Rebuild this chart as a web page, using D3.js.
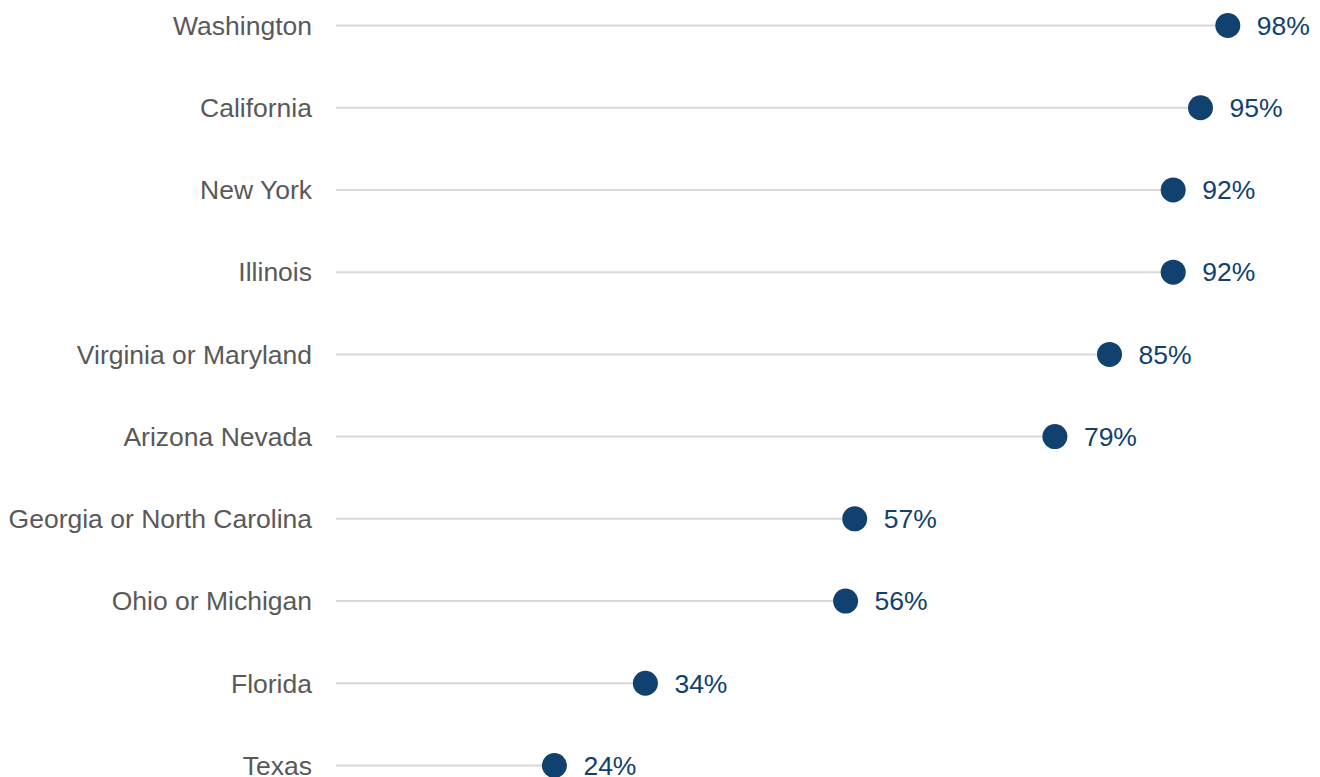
<!DOCTYPE html>
<html><head><meta charset="utf-8">
<script src="https://cdn.jsdelivr.net/npm/d3@7"></script>
<style>body{margin:0;background:#fff;overflow:hidden}svg{display:block}</style>
</head><body><svg id="c" width="1320" height="777"></svg>
<script>
const categories = ["Washington","California","New York","Illinois","Virginia or Maryland","Arizona Nevada","Georgia or North Carolina","Ohio or Michigan","Florida","Texas"];
const values = [98,95,92,92,85,79,57,56,34,24];

const svg = d3.select("#c");
const x = d3.scaleLinear().domain([0,100]).range([336,1246]);
const y = d3.scalePoint().domain(categories).range([25.5,765.5]);

const g = svg.append("g");
const rows = g.selectAll("g.row").data(categories).join("g")
  .attr("transform", d => `translate(0,${y(d)})`);

rows.append("line")
  .attr("x1", x(0)).attr("x2", (d,i) => x(values[i]))
  .attr("stroke", "#d9d9d9").attr("stroke-width", 2);

rows.append("text")
  .attr("x", 312).attr("dy", "0.35em").attr("text-anchor","end")
  .attr("font-family","Liberation Sans, Arial, sans-serif").attr("font-size", 26.5)
  .attr("fill","#595959").text(d => d);

rows.append("circle")
  .attr("cx", (d,i) => x(values[i])).attr("r", 12.5).attr("fill","#10416f");

rows.append("text")
  .attr("x", (d,i) => x(values[i]) + 29).attr("dy","0.35em")
  .attr("font-family","Liberation Sans, Arial, sans-serif").attr("font-size", 26.5)
  .attr("fill","#10416f").text((d,i) => values[i] + "%");
</script></body></html>
